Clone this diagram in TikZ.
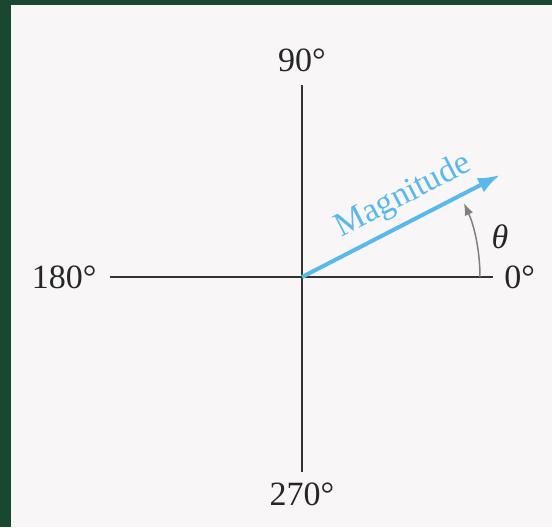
\documentclass[tikz,border=0pt]{standalone}
\usepackage{fontspec}
\setmainfont{Liberation Serif}
\usetikzlibrary{positioning, arrows.meta, calc}

\definecolor{framegreen}{HTML}{1A4731}
\definecolor{paper}{HTML}{F8F6F6}
\definecolor{magblue}{HTML}{5AB9EA}

\begin{document}
\begin{tikzpicture}[
        x=0.5pt, y=0.5pt,
        font=\fontsize{17}{20}\selectfont,
        >=Latex,
        axis/.style={draw=black!80, line width=0.8pt},
        deglabel/.style={text=black!85, inner sep=1pt},
        magarrow/.style={
            ->, draw=magblue, line width=2pt,
            >={Latex[length=11pt,width=8pt]}
        },
        maglabel/.style={text=magblue, sloped, above=0.5pt, pos=0.57},
        anglearc/.style={
            ->, draw=black!50, line width=0.75pt,
            >={Latex[length=6pt,width=4.5pt]}
        }
    ]

    % page and frame
    \useasboundingbox (-302,-250) rectangle (250,277);
    \fill[paper] (-302,-250) rectangle (250,277);
    \fill[framegreen] (-302,-250) rectangle (-291,277);
    \fill[framegreen] (-302,272) rectangle (250,277);

    \coordinate (O)     at (0,0);
    \coordinate (east)  at (191,0);
    \coordinate (west)  at (-192,0);
    \coordinate (north) at (0,192);
    \coordinate (south) at (0,-195);
    \coordinate (tip)   at (198,102);
    \coordinate (arcstart) at (178,0);

    \node[deglabel, right=4.5pt of east]  (deg0)   {0°};
    \node[deglabel, left=5.5pt of west]   (deg180) {180°};
    \node[deglabel, above=5.5pt of north] (deg90)  {90°};
    \node[deglabel, below=4pt of south]   (deg270) {270°};

    \node[deglabel] (theta) at (198,40) {\itshape θ};

    \draw[axis] (west)  -- (east);
    \draw[axis] (south) -- (north);

    \draw[anglearc] (arcstart) arc[start angle=0, end angle=24.5, radius=178];
    \draw[magarrow] (O) -- node[maglabel] (mag) {Magnitude} (tip);

\end{tikzpicture}
\end{document}
